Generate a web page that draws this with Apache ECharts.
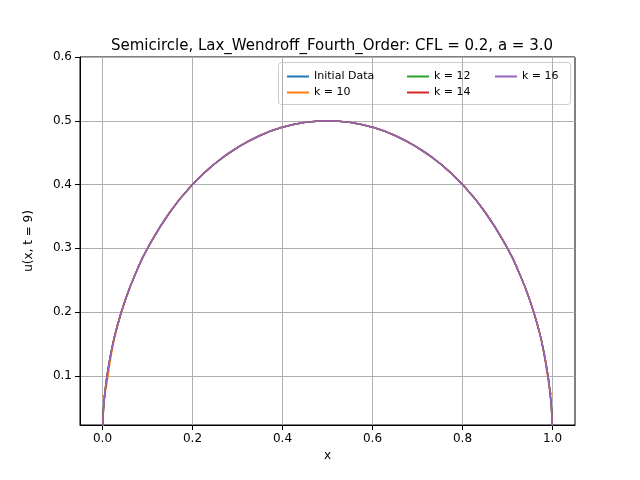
<!DOCTYPE html>
<html>
<head>
<meta charset="utf-8">
<script src="https://cdn.jsdelivr.net/npm/echarts@6/dist/echarts.min.js"></script>
<style>html,body{margin:0;padding:0;background:#fff}#c{width:640px;height:480px}</style>
</head>
<body>
<div id="c"></div>
<script>
// x grid points
var xs = [0, 0.002, 0.005, 0.01, 0.02, 0.03, 0.05, 0.075, 0.1, 0.15, 0.2, 0.25, 0.3, 0.35, 0.4, 0.45, 0.5,
  0.55, 0.6, 0.65, 0.7, 0.75, 0.8, 0.85, 0.9, 0.925, 0.95, 0.97, 0.98, 0.99, 0.995, 0.998, 1];
var initialData = [0, 0.045, 0.07, 0.1, 0.14, 0.171, 0.218, 0.263, 0.3, 0.357, 0.4, 0.433, 0.458, 0.477, 0.49, 0.4975, 0.5,
  0.4975, 0.49, 0.477, 0.458, 0.433, 0.4, 0.357, 0.3, 0.263, 0.218, 0.171, 0.14, 0.1, 0.07, 0.045, 0];
var k10 = [0.07, 0.068, 0.072, 0.09, 0.135, 0.168, 0.217, 0.263, 0.3, 0.357, 0.4, 0.433, 0.458, 0.477, 0.49, 0.4975, 0.5,
  0.4975, 0.49, 0.477, 0.458, 0.433, 0.4, 0.357, 0.3, 0.263, 0.218, 0.171, 0.138, 0.095, 0.075, 0.072, 0.07];
var k12 = [0.04, 0.05, 0.07, 0.1, 0.14, 0.171, 0.218, 0.263, 0.3, 0.357, 0.4, 0.433, 0.458, 0.477, 0.49, 0.4975, 0.5,
  0.4975, 0.49, 0.477, 0.458, 0.433, 0.4, 0.357, 0.3, 0.263, 0.218, 0.171, 0.14, 0.1, 0.07, 0.05, 0.04];
var k14 = [0.02, 0.045, 0.07, 0.1, 0.14, 0.171, 0.218, 0.263, 0.3, 0.357, 0.4, 0.433, 0.458, 0.477, 0.49, 0.4975, 0.5,
  0.4975, 0.49, 0.477, 0.458, 0.433, 0.4, 0.357, 0.3, 0.263, 0.218, 0.171, 0.14, 0.1, 0.07, 0.045, 0.02];
var k16 = [0, 0.045, 0.07, 0.1, 0.14, 0.171, 0.218, 0.263, 0.3, 0.357, 0.4, 0.433, 0.458, 0.477, 0.49, 0.4975, 0.5,
  0.4975, 0.49, 0.477, 0.458, 0.433, 0.4, 0.357, 0.3, 0.263, 0.218, 0.171, 0.14, 0.1, 0.07, 0.045, 0];
var xTicks = [0, 0.2, 0.4, 0.6, 0.8, 1.0];
var yTicks = [0.1, 0.2, 0.3, 0.4, 0.5, 0.6];

var names = ['Initial Data', 'k = 10', 'k = 12', 'k = 14', 'k = 16'];
var values = [initialData, k10, k12, k14, k16];
var colors = ['#1f77b4', '#ff7f0e', '#2ca02c', '#d62728', '#9467bd'];

function pairs(ys) {
  return xs.map(function (x, i) { return [x, ys[i]]; });
}

var chart = echarts.init(document.getElementById('c'));
var font = 'DejaVu Sans';
function legend(data, left) {
  return {
    data: data, orient: 'vertical', left: left, top: 66, itemGap: 5,
    itemWidth: 22, itemHeight: 2, icon: 'rect',
    textStyle: { fontFamily: font, fontSize: 11, color: '#000' }
  };
}
chart.setOption({
  animation: false,
  color: colors,
  title: {
    text: 'Semicircle, Lax_Wendroff_Fourth_Order: CFL = 0.2, a = 3.0',
    left: 327, top: 34, textAlign: 'center',
    textStyle: { fontFamily: font, fontSize: 15, fontWeight: 'normal', color: '#000' }
  },
  legend: [legend(['Initial Data', 'k = 10'], 282), legend(['k = 12', 'k = 14'], 402), legend(['k = 16'], 490)],
  graphic: [{ type: 'rect', left: 278, top: 62, shape: { width: 292, height: 42, r: 3 },
    style: { fill: 'rgba(255,255,255,0.8)', stroke: '#ccc' }, z: 0 }],
  grid: { left: 80, right: 65, top: 57, bottom: 55, show: true, borderColor: '#000', borderWidth: 1 },
  xAxis: {
    type: 'value', min: -0.05, max: 1.05, name: 'x', nameLocation: 'middle', nameGap: 25,
    nameTextStyle: { fontFamily: font, fontSize: 12, color: '#000' },
    axisLine: { onZero: false, lineStyle: { color: '#000' } },
    axisTick: { customValues: xTicks, lineStyle: { color: '#000' } },
    axisLabel: { customValues: xTicks, fontFamily: font, fontSize: 12, color: '#000',
      formatter: function (v) { return v.toFixed(1); } },
    splitLine: { show: true, lineStyle: { color: '#b0b0b0' } }
  },
  yAxis: {
    type: 'value', min: 0.023, max: 0.6, name: 'u(x, t = 9)', nameLocation: 'middle', nameGap: 45,
    position: 'left',
    nameTextStyle: { fontFamily: font, fontSize: 12, color: '#000' },
    axisLine: { show: true, onZero: false, lineStyle: { color: '#000' } },
    axisTick: { show: true, customValues: yTicks, lineStyle: { color: '#000' } },
    axisLabel: { customValues: yTicks, fontFamily: font, fontSize: 12, color: '#000',
      formatter: function (v) { return v.toFixed(1); } },
    splitLine: { show: true, lineStyle: { color: '#b0b0b0' } }
  },
  series: names.map(function (n, i) {
    return { name: n, type: 'line', data: pairs(values[i]), showSymbol: false, smooth: true,
      lineStyle: { width: 1.5, color: colors[i] }, clip: true };
  })
});
</script>
</body>
</html>
